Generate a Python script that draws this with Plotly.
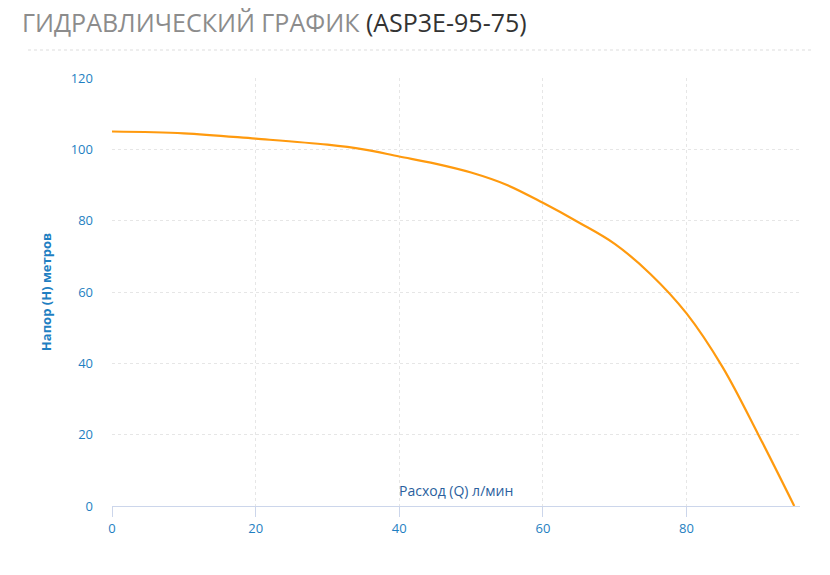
import plotly.graph_objects as go

# flow (l/min) and head (m)
flow = [0, 10, 20, 30, 35, 40, 45, 50, 55, 60, 65, 70, 75, 80, 85, 90, 95]
head = [105, 104.5, 103, 101.3, 100, 98, 96, 93.5, 90, 85, 79.5, 73.5, 65, 54, 39, 20, 0]

blue = "#1f7fc2"
L, R, T, B = 104, 38, 70, 77
W, H = 830 - L - R, 575 - T - B

fig = go.Figure(go.Scatter(x=flow, y=head, mode="lines",
                           line=dict(color="#ff9a0e", width=2.2, shape="spline"),
                           hoverinfo="x+y", showlegend=False))

fig.update_layout(
    width=830, height=575,
    margin=dict(l=L, r=R, t=T, b=B),
    plot_bgcolor="white", paper_bgcolor="white",
    font=dict(family="Open Sans", color=blue, size=13),
    xaxis=dict(range=[0, 95.8], tickvals=[0, 20, 40, 60, 80],
               showgrid=True, gridcolor="#e6e6e6", griddash="dot",
               showline=True, linecolor="#ccd6eb", linewidth=1,
               ticks="outside", ticklen=10, tickcolor="#ccd6eb",
               tickfont=dict(color=blue, size=13), zeroline=False),
    yaxis=dict(range=[0, 120], dtick=20, showgrid=True, gridcolor="#e6e6e6",
               griddash="dot", zeroline=False, ticklabelstandoff=18,
               tickfont=dict(color=blue, size=13),
               title=dict(text="<b>Напор (H) метров</b>", font=dict(color=blue, size=13),
                          standoff=16)),
    annotations=[
        dict(text="Расход (Q) л/мин", x=0.5, y=0.01, xref="paper", yref="paper",
             xanchor="center", yanchor="bottom", showarrow=False,
             font=dict(color="#2b5f9e", size=14)),
        dict(text="<span style='color:#8c8c8c'>ГИДРАВЛИЧЕСКИЙ ГРАФИК</span> (ASP3E-95-75)",
             x=(12 - L) / W, y=(575 - 14 - B) / H, xref="paper", yref="paper",
             xanchor="left", yanchor="middle", showarrow=False,
             font=dict(size=25, color="#333333", family="Open Sans")),
    ],
)
fig.add_shape(type="line", xref="paper", yref="paper",
              x0=(20 - L) / W, x1=(805 - L) / W, y0=(575 - 42 - B) / H, y1=(575 - 42 - B) / H,
              line=dict(color="#dddddd", width=1, dash="dot"))

fig.write_html("out.html")
